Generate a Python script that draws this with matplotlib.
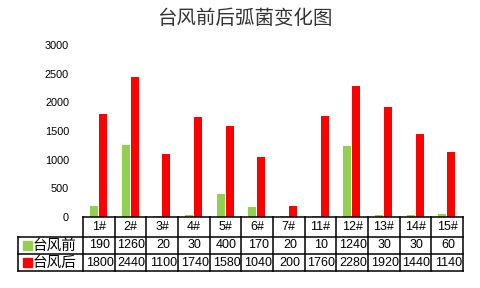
import numpy as np
import matplotlib
matplotlib.use("Agg")
import matplotlib.pyplot as plt
from matplotlib.lines import Line2D

plt.rcParams['font.family'] = ['Noto Sans CJK SC', 'DejaVu Sans']

# data
sites = ["1#", "2#", "3#", "4#", "5#", "6#", "7#", "11#", "12#", "13#", "14#", "15#"]
before = [190, 1260, 20, 30, 400, 170, 20, 10, 1240, 30, 30, 60]
after = [1800, 2440, 1100, 1740, 1580, 1040, 200, 1760, 2280, 1920, 1440, 1140]
series_names = ["台风前", "台风后"]
colors = ["#92D050", "#FF0000"]
yticks = [0, 500, 1000, 1500, 2000, 2500, 3000]

W, H = 480, 288


def fx(px):
    return px / W


def fy(py):
    return 1 - py / H


fig = plt.figure(figsize=(4.8, 2.88), dpi=100)
fig.patch.set_facecolor("white")

left, right, top, bottom = 83, 463, 45, 217
ax = fig.add_axes([fx(left), fy(bottom), (right - left) / W, (bottom - top) / H])

x = np.arange(len(sites))
ax.bar(x - 0.15, before, width=0.25, color=colors[0], zorder=3)
ax.bar(x + 0.13, after, width=0.25, color=colors[1], zorder=3)

ax.set_xlim(-0.5, len(sites) - 0.5)
ax.set_ylim(0, 3000)
ax.set_yticks(yticks)
ax.set_yticklabels([str(t) for t in yticks], fontsize=7.8, family="Liberation Sans")
ax.tick_params(axis='y', length=0, pad=10)
ax.set_xticks([])
for s in ax.spines.values():
    s.set_visible(False)

fig.text(fx(245), fy(18), "台风前后弧菌变化图", ha='center', va='center',
         fontsize=14, color='#333333', fontweight='light')

# data table under the chart
col_w = (right - left) / len(sites)
rows_y = [217, 237, 254, 271]
tab_left = 18
lw = 1.1
kw = dict(color='black', linewidth=lw, solid_capstyle='projecting')
fig.add_artist(Line2D([fx(left), fx(right)], [fy(rows_y[0])] * 2, **kw))
for ry in rows_y[1:]:
    fig.add_artist(Line2D([fx(tab_left), fx(right)], [fy(ry)] * 2, **kw))
fig.add_artist(Line2D([fx(tab_left), fx(tab_left)], [fy(rows_y[1]), fy(rows_y[3])], **kw))
for i in range(len(sites) + 1):
    cx = left + i * col_w
    fig.add_artist(Line2D([fx(cx), fx(cx)], [fy(rows_y[0]), fy(rows_y[3])], **kw))

num_font = dict(fontsize=9, family="Liberation Sans", ha='center', va='center')
for i, s in enumerate(sites):
    cx = left + (i + 0.5) * col_w
    fig.text(fx(cx), fy((rows_y[0] + rows_y[1]) / 2), s, **num_font)
    fig.text(fx(cx + 1), fy((rows_y[1] + rows_y[2]) / 2), str(before[i]), **num_font)
    fig.text(fx(cx + 1), fy((rows_y[2] + rows_y[3]) / 2), str(after[i]), **num_font)

for k, (name, c) in enumerate(zip(series_names, colors)):
    yc = (rows_y[k + 1] + rows_y[k + 2]) / 2
    fig.patches.append(plt.Rectangle((fx(23), fy(yc + 4.5)), 9 / W, 9 / H,
                                     transform=fig.transFigure, color=c, figure=fig))
    fig.text(fx(33), fy(yc), name, fontsize=10.5, ha='left', va='center')

fig.savefig("out.png", dpi=100, facecolor="white")
